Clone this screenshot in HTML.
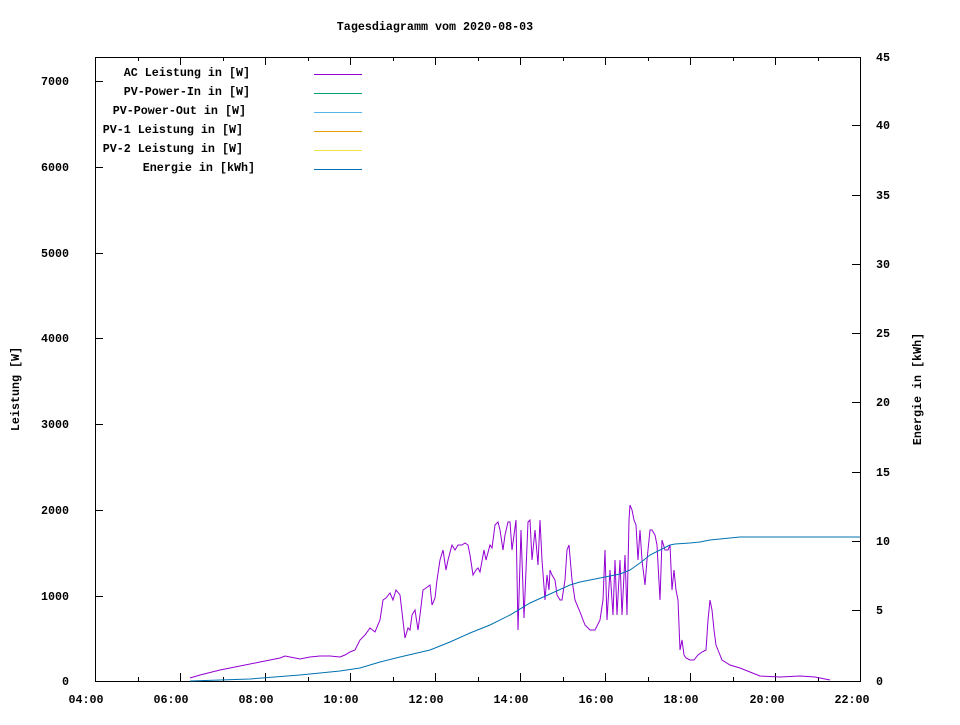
<!DOCTYPE html>
<html><head><meta charset="utf-8"><style>
body{margin:0;background:#fff}
svg text{font-family:"Liberation Mono","DejaVu Sans Mono",monospace;font-size:11.7px;font-weight:bold;fill:#000}
</style></head><body>
<svg width="960" height="720" viewBox="0 0 960 720" xmlns="http://www.w3.org/2000/svg">
<rect width="960" height="720" fill="#fff"/>
<text x="435" y="30" text-anchor="middle">Tagesdiagramm vom 2020-08-03</text>
<rect x="95.5" y="57.5" width="765" height="624" fill="none" stroke="#000" stroke-width="1"/>
<g stroke="#000" stroke-width="1">
<path d="M95 596.5h8M95 510.5h8M95 424.5h8M95 338.5h8M95 253.5h8M95 167.5h8M95 81.5h8"/>
<path d="M860 610.5h-8M860 541.5h-8M860 472.5h-8M860 402.5h-8M860 333.5h-8M860 264.5h-8M860 195.5h-8M860 125.5h-8"/>
<path d="M180.5 681v-8M265.5 681v-8M350.5 681v-8M435.5 681v-8M520.5 681v-8M605.5 681v-8M690.5 681v-8M775.5 681v-8"/>
<path d="M138.5 681v-4M223.5 681v-4M308.5 681v-4M393.5 681v-4M478.5 681v-4M563.5 681v-4M648.5 681v-4M733.5 681v-4M818.5 681v-4"/>
<path d="M180.5 57v8M265.5 57v8M350.5 57v8M435.5 57v8M520.5 57v8M605.5 57v8M690.5 57v8M775.5 57v8"/>
<path d="M138.5 57v4M223.5 57v4M308.5 57v4M393.5 57v4M478.5 57v4M563.5 57v4M648.5 57v4M733.5 57v4M818.5 57v4"/>
</g>
<g text-anchor="end">
<text x="69" y="685">0</text><text x="69" y="600">1000</text><text x="69" y="514">2000</text><text x="69" y="428">3000</text><text x="69" y="342">4000</text><text x="69" y="257">5000</text><text x="69" y="171">6000</text><text x="69" y="85">7000</text>
</g>
<g>
<text x="876" y="685">0</text><text x="876" y="614">5</text><text x="876" y="545">10</text><text x="876" y="476">15</text><text x="876" y="406">20</text><text x="876" y="337">25</text><text x="876" y="268">30</text><text x="876" y="199">35</text><text x="876" y="129">40</text><text x="876" y="61">45</text>
</g>
<g text-anchor="middle">
<text x="86" y="703">04:00</text><text x="171" y="703">06:00</text><text x="256" y="703">08:00</text><text x="341" y="703">10:00</text><text x="426" y="703">12:00</text><text x="511" y="703">14:00</text><text x="596" y="703">16:00</text><text x="681" y="703">18:00</text><text x="852" y="703">22:00</text><text x="767" y="703">20:00</text>
</g>
<text transform="translate(19 389) rotate(-90)" text-anchor="middle">Leistung [W]</text>
<text transform="translate(921 389) rotate(-90)" text-anchor="middle">Energie in [kWh]</text>
<g text-anchor="end">
<text x="250" y="76">AC Leistung in [W]</text>
<text x="250" y="95">PV-Power-In in [W]</text>
<text x="246" y="114">PV-Power-Out in [W]</text>
<text x="243" y="133">PV-1 Leistung in [W]</text>
<text x="243" y="152">PV-2 Leistung in [W]</text>
<text x="255" y="171">Energie in [kWh]</text>
</g>
<g stroke-width="1">
<path d="M314 74.5h48" stroke="#9400d3"/>
<path d="M314 93.5h48" stroke="#009e73"/>
<path d="M314 112.5h48" stroke="#56b4e9"/>
<path d="M314 131.5h48" stroke="#e69f00"/>
<path d="M314 150.5h48" stroke="#f0e442"/>
<path d="M314 169.5h48" stroke="#0072b2"/>
</g>
<polyline fill="none" stroke="#9400d3" stroke-width="1" points="190,678 200,675 220,670 240,666 260,662 270,660 280,658 285,656 290,657 300,659 310,657 320,656 330,656 340,657 345,655 350,652 355,650 360,640 365,635 370,628 375,632 380,620 383,600 386,598 390,593 393,600 396,590 400,595 405,638 408,628 410,630 412,615 415,610 418,630 420,615 423,590 426,588 430,585 432,605 435,598 437,580 440,560 443,550 446,570 448,560 452,545 455,550 458,545 462,545 465,543 468,545 470,555 473,575 476,570 478,568 480,572 484,550 486,560 490,545 492,548 495,525 498,522 500,530 503,550 505,535 508,522 510,522 512,550 516,520 518,630 521,530 524,618 528,522 530,520 532,560 535,530 538,565 540,520 542,560 545,600 547,575 549,590 550,570 552,575 555,580 557,595 560,600 562,600 565,580 567,550 569,545 572,580 575,600 580,612 585,625 590,630 595,630 600,620 603,600 605,550 607,620 610,570 613,615 615,560 617,615 620,560 622,615 625,555 627,615 629,520 630,505 632,510 634,520 636,525 638,560 640,530 642,560 645,585 647,560 650,530 652,530 655,535 657,545 660,600 662,540 665,550 668,550 670,545 672,590 674,570 676,590 678,600 680,650 682,640 684,655 686,658 690,660 694,660 698,655 702,652 706,650 708,620 710,600 712,610 714,630 716,645 718,650 722,660 730,665 740,668 750,672 760,676 780,677 800,676 815,677 830,680"/>
<polyline fill="none" stroke="#0072b2" stroke-width="1" points="190,681 250,679 300,675 340,671 360,668 380,662 400,657 430,650 450,642 470,633 490,625 510,615 530,603 550,594 570,585 580,582 600,578 620,574 630,570 640,563 650,555 660,550 670,545 675,544 690,543 700,542 710,540 720,539 740,537 760,537 860,537"/>
</svg>
</body></html>
